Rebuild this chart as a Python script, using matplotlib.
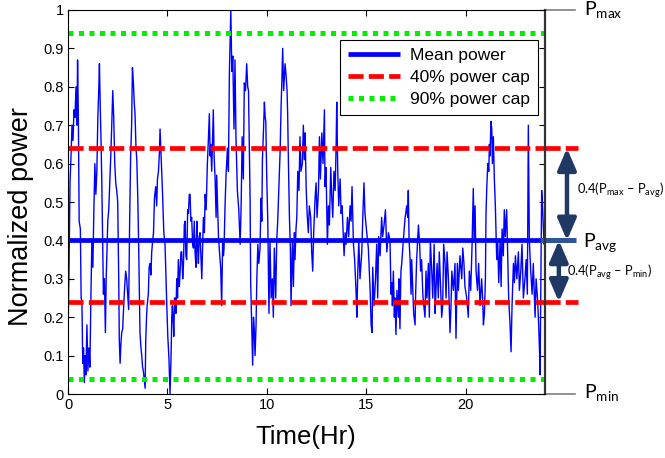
import matplotlib
matplotlib.use("Agg")
import matplotlib.pyplot as plt
from matplotlib.transforms import blended_transform_factory

plt.rcParams['font.family'] = ['Liberation Sans', 'DejaVu Sans']
plt.rcParams['mathtext.fontset'] = 'custom'
plt.rcParams['mathtext.rm'] = 'Lato'
plt.rcParams['mathtext.it'] = 'Lato:italic'

# ---------------- data ----------------
hours_a = [0.00, 0.05, 0.10, 0.15, 0.20, 0.25, 0.30, 0.35, 0.40, 0.45, 0.48, 0.52, 0.56, 0.62,
           0.66, 0.70, 0.74, 0.78, 0.82, 0.86, 0.90, 0.95, 1.00, 1.05, 1.10, 1.15, 1.20, 1.25,
           1.30, 1.35, 1.40, 1.45, 1.50, 1.55, 1.58, 1.62, 1.66, 1.70, 1.74, 1.78, 1.83, 1.88,
           1.92, 1.96, 2.00, 2.05, 2.10, 2.15, 2.20, 2.25, 2.30, 2.35, 2.40, 2.45, 2.50, 2.55,
           2.58, 2.62, 2.66, 2.70, 2.75, 2.80, 2.85, 2.90, 2.95, 3.00, 3.05]
power_a = [0.15, 0.33, 0.55, 0.62, 0.70, 0.66, 0.74, 0.72, 0.80, 0.70, 0.87, 0.72, 0.45, 0.43,
           0.25, 0.24, 0.08, 0.12, 0.03, 0.10, 0.05, 0.18, 0.06, 0.12, 0.07, 0.25, 0.40, 0.33,
           0.48, 0.60, 0.52, 0.58, 0.72, 0.80, 0.86, 0.75, 0.66, 0.55, 0.40, 0.26, 0.30, 0.16,
           0.30, 0.38, 0.45, 0.48, 0.55, 0.62, 0.70, 0.79, 0.72, 0.60, 0.55, 0.53, 0.50, 0.30,
           0.14, 0.08, 0.13, 0.16, 0.17, 0.23, 0.28, 0.32, 0.30, 0.26, 0.22]

hours_b = [3.10, 3.15, 3.20, 3.24, 3.29, 3.33, 3.37, 3.42, 3.46, 3.51, 3.55, 3.58, 3.62, 3.67,
           3.71, 3.75, 3.79, 3.83, 3.88, 3.91, 3.95, 3.98, 4.04, 4.08, 4.13, 4.17, 4.21, 4.26,
           4.30, 4.35, 4.41, 4.46, 4.50, 4.55, 4.60, 4.63, 4.68, 4.72, 4.75, 4.80, 4.82, 4.88,
           4.93, 4.97, 5.02, 5.05, 5.08, 5.13, 5.18, 5.22, 5.25, 5.30, 5.32, 5.36, 5.39, 5.43,
           5.47, 5.51, 5.55, 5.60, 5.64, 5.68, 5.72, 5.77, 5.81, 5.85, 5.89, 5.93, 5.97, 6.02,
           6.06, 6.10, 6.14, 6.18, 6.22, 6.27, 6.31, 6.35]
power_b = [0.45, 0.62, 0.70, 0.85, 0.81, 0.76, 0.73, 0.64, 0.61, 0.51, 0.40, 0.30, 0.16, 0.12,
           0.10, 0.07, 0.06, 0.04, 0.015, 0.14, 0.20, 0.23, 0.26, 0.33, 0.34, 0.31, 0.37, 0.40,
           0.42, 0.51, 0.54, 0.49, 0.56, 0.58, 0.63, 0.69, 0.62, 0.57, 0.53, 0.45, 0.42, 0.39,
           0.30, 0.23, 0.15, 0.12, 0.09, 0.00, 0.09, 0.20, 0.23, 0.18, 0.15, 0.25, 0.25, 0.21,
           0.30, 0.25, 0.35, 0.28, 0.32, 0.37, 0.37, 0.30, 0.34, 0.44, 0.45, 0.36, 0.35, 0.48,
           0.47, 0.52, 0.52, 0.45, 0.46, 0.39, 0.38, 0.45]

hours_c = [6.39, 6.44, 6.48, 6.52, 6.56, 6.60, 6.64, 6.69, 6.73, 6.78, 6.81, 6.86, 6.90, 6.95,
           7.01, 7.06, 7.11, 7.15, 7.18, 7.23, 7.28, 7.31, 7.35, 7.40, 7.45, 7.48, 7.52, 7.57,
           7.62, 7.68, 7.73, 7.78, 7.82, 7.85, 7.90, 7.95, 8.02, 8.07, 8.12, 8.19, 8.24, 8.29,
           8.35, 8.40, 8.45, 8.52, 8.59, 8.66, 8.71, 8.76, 8.82, 8.87, 8.93, 8.99, 9.04, 9.08,
           9.13, 9.16, 9.19, 9.24, 9.29, 9.33, 9.37, 9.41, 9.46, 9.50, 9.55, 9.60, 9.66]
power_c = [0.37, 0.33, 0.45, 0.38, 0.34, 0.41, 0.42, 0.35, 0.30, 0.40, 0.46, 0.42, 0.52, 0.48,
           0.60, 0.66, 0.73, 0.62, 0.65, 0.58, 0.68, 0.74, 0.62, 0.56, 0.46, 0.57, 0.50, 0.41,
           0.37, 0.33, 0.23, 0.40, 0.36, 0.38, 0.49, 0.57, 0.64, 0.58, 0.84, 1.00, 0.84, 0.88,
           0.69, 0.87, 0.67, 0.53, 0.48, 0.39, 0.49, 0.67, 0.56, 0.81, 0.79, 0.86, 0.80, 0.79,
           0.62, 0.51, 0.29, 0.18, 0.075, 0.20, 0.17, 0.10, 0.18, 0.30, 0.39, 0.34, 0.38]

hours_d = [9.71, 9.75, 9.78, 9.83, 9.88, 9.92, 9.95, 10.00, 10.05, 10.08, 10.11, 10.16, 10.22,
           10.28, 10.33, 10.38, 10.45, 10.50, 10.55, 10.62, 10.67, 10.72, 10.75, 10.80, 10.85,
           10.92, 10.97, 11.02, 11.05, 11.09, 11.14, 11.19, 11.22, 11.29, 11.34, 11.39, 11.42,
           11.47, 11.51, 11.56, 11.62, 11.67, 11.72, 11.79, 11.84, 11.89, 11.93, 11.98, 12.03,
           12.09, 12.14, 12.21, 12.26, 12.31, 12.36, 12.43, 12.48, 12.53, 12.60, 12.65, 12.70,
           12.77, 12.83, 12.90, 12.93]
power_d = [0.51, 0.45, 0.61, 0.68, 0.76, 0.72, 0.71, 0.56, 0.45, 0.32, 0.21, 0.40, 0.25,
           0.30, 0.20, 0.38, 0.25, 0.40, 0.45, 0.56, 0.63, 0.75, 0.80, 0.90, 0.79,
           0.86, 0.83, 0.79, 0.73, 0.60, 0.46, 0.37, 0.23, 0.40, 0.28, 0.42, 0.35,
           0.43, 0.46, 0.58, 0.53, 0.67, 0.58, 0.60, 0.70, 0.61, 0.68, 0.54, 0.47,
           0.42, 0.49, 0.46, 0.37, 0.32, 0.42, 0.51, 0.55, 0.46, 0.53, 0.67, 0.56,
           0.68, 0.60, 0.74, 0.54]

hours_e = [12.98, 13.05, 13.10, 13.15, 13.22, 13.27, 13.32, 13.38, 13.44, 13.49, 13.52, 13.57,
           13.62, 13.69, 13.74, 13.79, 13.85, 13.89, 13.94, 13.99, 14.06, 14.12, 14.19, 14.24,
           14.29, 14.36, 14.42, 14.49, 14.53, 14.58, 14.63, 14.69, 14.78, 14.83, 14.89, 14.94,
           15.03, 15.11, 15.20, 15.25, 15.30, 15.33, 15.40, 15.47, 15.53, 15.58, 15.63, 15.70,
           15.78, 15.83, 15.90, 15.97, 16.04, 16.12, 16.20]
power_e = [0.59, 0.39, 0.49, 0.44, 0.59, 0.51, 0.46, 0.58, 0.53, 0.65, 0.76, 0.58,
           0.49, 0.56, 0.47, 0.49, 0.41, 0.36, 0.42, 0.39, 0.46, 0.41, 0.49, 0.45,
           0.54, 0.39, 0.35, 0.27, 0.20, 0.32, 0.40, 0.30, 0.37, 0.46, 0.55, 0.47,
           0.42, 0.38, 0.27, 0.18, 0.16, 0.33, 0.23, 0.30, 0.39, 0.25, 0.41, 0.36,
           0.46, 0.41, 0.44, 0.48, 0.37, 0.42, 0.40]

hours_f = [16.25, 16.29, 16.32, 16.37, 16.42, 16.45, 16.50, 16.55, 16.62, 16.65, 16.70, 16.75,
           16.79, 16.87, 16.96, 16.99, 17.04, 17.09, 17.12, 17.16, 17.21, 17.26, 17.29, 17.34,
           17.39, 17.46, 17.49, 17.54, 17.59, 17.63, 17.69, 17.74, 17.79, 17.85, 17.90, 17.96,
           18.01, 18.06, 18.13, 18.18, 18.23, 18.30, 18.35, 18.42, 18.47, 18.52, 18.57, 18.63,
           18.68, 18.73, 18.80, 18.85, 18.90, 18.97, 19.02, 19.07, 19.14, 19.22, 19.27, 19.31,
           19.39, 19.47]
power_f = [0.26, 0.29, 0.23, 0.32, 0.20, 0.25, 0.155, 0.27, 0.20, 0.30, 0.17, 0.32,
           0.34, 0.40, 0.46, 0.47, 0.49, 0.46, 0.53, 0.40, 0.35, 0.26, 0.35, 0.28,
           0.21, 0.18, 0.26, 0.35, 0.40, 0.44, 0.39, 0.32, 0.35, 0.26, 0.23, 0.20,
           0.32, 0.25, 0.34, 0.20, 0.40, 0.32, 0.25, 0.39, 0.21, 0.28, 0.34, 0.25,
           0.37, 0.30, 0.20, 0.23, 0.39, 0.34, 0.25, 0.37, 0.30, 0.16, 0.23, 0.32,
           0.27, 0.34]

hours_g = [19.52, 19.59, 19.64, 19.72, 19.81, 19.86, 19.92, 19.97, 20.06, 20.14, 20.19, 20.26,
           20.33, 20.39, 20.43, 20.48, 20.53, 20.60, 20.66, 20.73, 20.81, 20.86, 20.90, 20.95,
           21.00, 21.03, 21.07, 21.12, 21.17, 21.20, 21.23, 21.28, 21.32, 21.35, 21.40, 21.45,
           21.50, 21.57, 21.62, 21.67, 21.74, 21.79, 21.84, 21.90, 21.95, 22.00, 22.07, 22.12,
           22.17, 22.24, 22.29, 22.34, 22.41, 22.46, 22.51, 22.58, 22.66, 22.71, 22.78, 22.84,
           22.91, 22.99, 23.05, 23.11, 23.16, 23.21, 23.28, 23.35, 23.41, 23.50, 23.55, 23.62,
           23.68, 23.73, 23.75, 23.78, 23.83, 23.88, 23.95, 24.00]
power_g = [0.145, 0.34, 0.27, 0.36, 0.30, 0.38, 0.34, 0.28, 0.25, 0.20, 0.32, 0.27,
           0.39, 0.535, 0.40, 0.49, 0.32, 0.27, 0.34, 0.23, 0.30, 0.25, 0.18, 0.21,
           0.30, 0.47, 0.54, 0.60, 0.58, 0.65, 0.62, 0.71, 0.69, 0.60, 0.67, 0.56,
           0.49, 0.35, 0.40, 0.29, 0.40, 0.28, 0.43, 0.36, 0.48, 0.41, 0.48, 0.37,
           0.25, 0.18, 0.11, 0.23, 0.34, 0.29, 0.36, 0.30, 0.37, 0.27, 0.32, 0.39,
           0.25, 0.30, 0.35, 0.26, 0.70, 0.40, 0.32, 0.26, 0.34, 0.20, 0.30, 0.25,
           0.18, 0.10, 0.05, 0.23, 0.53, 0.48, 0.39, 0.40]

hours = hours_a + hours_b + hours_c + hours_d + hours_e + hours_f + hours_g
power = power_a + power_b + power_c + power_d + power_e + power_f + power_g

mean_power = 0.40
cap40_levels = [0.64, 0.24]
cap90_levels = [0.94, 0.04]
p_max, p_min = 1.0, 0.0

legend_labels = ['Mean power', '40% power cap', '90% power cap']
x_ticks = [0, 5, 10, 15, 20]
y_ticks = [0, 0.1, 0.2, 0.3, 0.4, 0.5, 0.6, 0.7, 0.8, 0.9, 1.0]
y_tick_labels = ['0', '0.1', '0.2', '0.3', '0.4', '0.5', '0.6', '0.7', '0.8', '0.9', '1']

# ---------------- figure ----------------
fig = plt.figure(figsize=(6.65, 4.58), dpi=100)
ax = fig.add_axes([0.1023, 0.1397, 0.7173, 0.8385])

ax.plot(hours, power, color='#0000FF', lw=1.0)

l_mean, = ax.plot([0, 24], [mean_power, mean_power], color='#0000FF', lw=3.4,
                  solid_capstyle='butt')
l_cap40 = None
for lev in cap40_levels:
    l_cap40, = ax.plot([0, 24], [lev, lev], color='#FF0000', lw=3.4,
                       linestyle=(0, (3.2, 1.1)))
l_cap90 = None
for lev in cap90_levels:
    l_cap90, = ax.plot([0, 24], [lev, lev], color='#00F000', lw=3.6,
                       linestyle=(0, (1, 1.1)))

ax.set_xlim(0, 24)
ax.set_ylim(0, 1)
ax.set_xticks(x_ticks)
ax.set_yticks(y_ticks)
ax.set_yticklabels(y_tick_labels)
ax.tick_params(direction='in', top=True, right=True, labelsize=10.5, length=4,
               width=0.8, pad=3)
for s in ax.spines.values():
    s.set_linewidth(0.8)
ax.spines['right'].set_linewidth(1.6)
ax.spines['right'].set_color('#333333')

leg = ax.legend([l_mean, l_cap40, l_cap90], legend_labels, loc='upper right',
                bbox_to_anchor=(0.985, 0.922), borderaxespad=0, fontsize=12.5,
                handlelength=3.0, fancybox=False, framealpha=1, edgecolor='black',
                borderpad=0.45, labelspacing=0.4, handletextpad=0.6)
leg.get_frame().set_linewidth(0.8)

fig.text(21 / 665, 1 - 217 / 458, 'Normalized power', rotation=90, ha='center',
         va='center', fontsize=19.5)
fig.text(306 / 665, 1 - 437 / 458, 'Time(Hr)', ha='center', va='center', fontsize=18.5)

# ---------------- right-side annotation ----------------
tr = blended_transform_factory(ax.transAxes, ax.transData)
ann_font = ['Lato', 'DejaVu Sans']
for lev in cap40_levels:
    ax.plot([1.0, 1.069], [lev, lev], transform=tr, clip_on=False, color='#FF0000',
            lw=3.4, linestyle=(0, (3.2, 1.1)))
ax.plot([0.99, 1.065], [mean_power, mean_power], transform=tr, clip_on=False,
        color='#2F5597', lw=3.6, solid_capstyle='butt')
for lev in (p_max, p_min):
    ax.plot([1.0, 1.063], [lev, lev], transform=tr, clip_on=False, color='#7F7F7F', lw=1.2)

arrow_kw = dict(arrowstyle='<|-|>,head_length=0.65,head_width=0.28', color='#1F3864',
                lw=3.2, mutation_scale=20, shrinkA=0, shrinkB=0)
ax.annotate('', xy=(1.046, mean_power), xytext=(1.046, cap40_levels[0]), xycoords=tr,
            textcoords=tr, arrowprops=arrow_kw, annotation_clip=False)
ax.annotate('', xy=(1.029, cap40_levels[1]), xytext=(1.029, mean_power), xycoords=tr,
            textcoords=tr, arrowprops=arrow_kw, annotation_clip=False)

ax.text(1.082, p_max, r'P$_{\mathrm{max}}$', transform=tr, fontsize=14, family=ann_font,
        ha='left', va='center', clip_on=False)
ax.text(1.080, mean_power - 0.005, r'P$_{\mathrm{avg}}$', transform=tr, fontsize=14,
        family=ann_font, ha='left', va='center', clip_on=False)
ax.text(1.082, p_min + 0.005, r'P$_{\mathrm{min}}$', transform=tr, fontsize=14,
        family=ann_font, ha='left', va='center', clip_on=False)
ax.text(1.066, 0.53, r'0.4(P$_{\mathrm{max}}$ – P$_{\mathrm{avg}}$)', transform=tr,
        fontsize=9.3, family=ann_font, ha='left', va='center', clip_on=False)
ax.text(1.046, 0.318, r'0.4(P$_{\mathrm{avg}}$ – P$_{\mathrm{min}}$)', transform=tr,
        fontsize=9.3, family=ann_font, ha='left', va='center', clip_on=False)

fig.savefig('out.png', dpi=100)
